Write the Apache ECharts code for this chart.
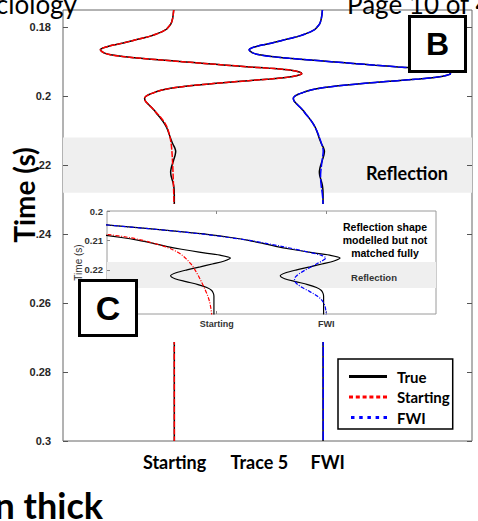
<!DOCTYPE html>
<html><head><meta charset="utf-8">
<script src="https://cdn.jsdelivr.net/npm/echarts@6/dist/echarts.min.js"></script>
<style>html,body{margin:0;padding:0;background:#fff}#c{width:478px;height:521px}</style>
</head><body><div id="c"></div>
<script>
// ---- data (amplitudes in inset units; the main panel shows them at 1/insetGain) ----
const directTime = [0.1750,0.1755,0.1760,0.1765,0.1770,0.1775,0.1780,0.1785,0.1790,0.1795,
  0.1800,0.1805,0.1810,0.1815,0.1820,0.1825,0.1830,0.1835,0.1840,0.1845,
  0.1850,0.1855,0.1860,0.1865,0.1870,0.1875,0.1880,0.1885,0.1890,0.1895,
  0.1900,0.1905,0.1910,0.1915,0.1920,0.1925,0.1930,0.1935,0.1940,0.1945,
  0.1950,0.1955,0.1960,0.1965,0.1970,0.1975,0.1980,0.1985,0.1990,0.1995,
  0.2000,0.2005,0.2010,0.2015,0.2020,0.2025,0.2030,0.2035,0.2040,0.2045];
// direct arrival, identical in True, Starting and FWI
const directAmp = [-0.09,-0.11,-0.13,-0.15,-0.18,-0.21,-0.26,-0.31,-0.39,-0.52,
  -0.68,-0.84,-1.13,-1.50,-1.99,-2.52,-3.17,-3.97,-4.67,-5.42,
  -6.28,-7.09,-7.68,-7.98,-7.84,-7.52,-6.87,-5.58,-3.65,-1.40,
  0.86,3.22,5.58,8.05,10.74,12.56,13.42,13.69,13.21,12.13,
  10.31,7.95,5.58,3.44,1.61,0.11,-0.97,-1.72,-2.25,-2.74,
  -3.06,-3.22,-3.20,-3.11,-2.95,-2.77,-2.58,-2.39,-2.21,-2.06];
const tailTime = [0.205,0.206,0.207,0.208,0.209,0.210,0.211,0.212,0.213,0.214,
  0.215,0.216,0.217,0.218,0.219,0.220,0.221,0.222,0.223,0.224,
  0.225,0.226,0.227,0.228,0.229,0.230,0.231,0.232,0.233,0.234,
  0.235,0.300];
const trueTail = [-1.93,-1.62,-1.33,-1.07,-0.87,-0.71,-0.58,-0.46,-0.32,-0.16,
  0.03,0.125,0.07,-0.04,-0.15,-0.27,-0.37,-0.42,-0.38,-0.28,
  -0.17,-0.09,-0.045,-0.03,-0.025,-0.025,-0.025,-0.025,-0.025,-0.025,
  -0.025,-0.025];
const startingTail = [-1.88,-1.52,-1.24,-0.99,-0.80,-0.67,-0.57,-0.48,-0.41,-0.355,
  -0.315,-0.285,-0.258,-0.235,-0.215,-0.198,-0.182,-0.167,-0.153,-0.14,
  -0.127,-0.114,-0.102,-0.09,-0.08,-0.071,-0.064,-0.058,-0.053,-0.049,
  -0.046,-0.02];
const fwiTail = [-1.93,-1.62,-1.34,-1.09,-0.89,-0.70,-0.55,-0.41,-0.28,-0.16,
  -0.05,-0.005,-0.04,-0.09,-0.14,-0.19,-0.235,-0.27,-0.29,-0.285,
  -0.26,-0.22,-0.17,-0.12,-0.08,-0.048,-0.028,-0.015,-0.008,-0.004,
  -0.002,0];
const insetGain = 16;
const traceOffset = {Starting: 1, FWI: 2};
const mainXLabels = ['Starting', 'Trace 5', 'FWI'];
const mainXLabelPos = [1, 1.57, 2.03];
const mainYTicks = [0.18, 0.2, 0.22, 0.24, 0.26, 0.28, 0.3];
const mainYTickLabels = ['0.18', '0.2', '.22', '.24', '0.26', '0.28', '0.3'];
const insetXTicks = [1, 2];
const insetXLabels = ['Starting', 'FWI'];
const insetYTicks = [0.2, 0.21, 0.22, 0.23];
const insetYLabels = [0.2, 0.21, 0.22];
const mainBand = [0.212, 0.228];
const insetBand = [0.2173, 0.2262];

// ---- build ----
const time = directTime.concat(tailTime);
const trueAmp = directAmp.concat(trueTail);
const startAmp = directAmp.concat(startingTail);
const fwiAmp = directAmp.concat(fwiTail);

function pts(amp, offset, gain, tMin) {
  const out = [];
  for (let i = 0; i < time.length; i++) {
    if (time[i] < tMin) continue;
    out.push([offset + amp[i] * gain, time[i]]);
  }
  return out;
}
function line(name, data, axis, color, width, type, z) {
  return {type: 'line', name, data, xAxisIndex: axis, yAxisIndex: axis, symbol: 'none',
    smooth: 0.3, silent: true, z, itemStyle: {color}, lineStyle: {color, width, type}};
}
function band(axis, range, z) {
  return {type: 'line', data: [], xAxisIndex: axis, yAxisIndex: axis, z, silent: true, symbol: 'none',
    markArea: {silent: true, z, itemStyle: {color: '#efefef'}, data: [[{yAxis: range[0]}, {yAxis: range[1]}]]}};
}
const gMain = 1 / insetGain;
const series = [
  band(0, mainBand, 1),
  line('True', pts(trueAmp, traceOffset.Starting, gMain, 0), 0, '#000', 1.5, 'solid', 2),
  line('True', pts(trueAmp, traceOffset.FWI, gMain, 0), 0, '#000', 1.5, 'solid', 2),
  line('Starting', pts(startAmp, traceOffset.Starting, gMain, 0), 0, '#ff0000', 1.5, [6, 1.5], 2),
  line('FWI', pts(fwiAmp, traceOffset.FWI, gMain, 0), 0, '#0000ff', 1.5, [9, 1.5], 2),
  band(1, insetBand, 5),
  line('True', pts(trueAmp, traceOffset.Starting, 1, 0.199), 1, '#000', 1.2, 'solid', 7),
  line('True', pts(trueAmp, traceOffset.FWI, 1, 0.199), 1, '#000', 1.2, 'solid', 7),
  line('Starting', pts(startAmp, traceOffset.Starting, 1, 0.199), 1, '#ff0000', 1.2, [4, 1.5, 1, 1.5], 7),
  line('FWI', pts(fwiAmp, traceOffset.FWI, 1, 0.199), 1, '#0000ff', 1.2, [4, 1.5, 1, 1.5], 7)
];

// legend icons (38 x 15 box): solid bar, dotted bars
const solidIcon = 'path://M0,0h0.01v0.01h-0.01z M0,6h38v3h-38z M37.99,14.99h0.01v0.01h-0.01z';
const redDots = 'path://M0,0h0.01v0.01h-0.01z M0,6h4v3h-4z M6.8,6h4v3h-4z M13.6,6h4v3h-4z M20.4,6h4v3h-4z M27.2,6h4v3h-4z M34,6h4v3h-4z M37.99,14.99h0.01v0.01h-0.01z';
const blueDots = 'path://M0,0h0.01v0.01h-0.01z M2,6h3.5v3h-3.5z M10.2,6h3.5v3h-3.5z M18.4,6h3.5v3h-3.5z M26.6,6h3.5v3h-3.5z M34.5,6h3.5v3h-3.5z M37.99,14.99h0.01v0.01h-0.01z';

const tickFont = {fontFamily: 'Liberation Sans', fontWeight: 'bold'};
const chart = echarts.init(document.getElementById('c'), null, {renderer: 'svg'});
chart.setOption({
  animation: false,
  grid: [
    {left: 63, top: 10, width: 409, height: 431, show: true, borderColor: '#666', borderWidth: 1, z: 0},
    {left: 107, top: 211, width: 329, height: 103, show: true, backgroundColor: '#fff', borderColor: '#9a9a9a', borderWidth: 1, z: 4}
  ],
  xAxis: [
    {gridIndex: 0, type: 'value', min: 0.25, max: 3, z: 8,
      axisLine: {show: false}, axisTick: {show: false}, splitLine: {show: false},
      axisLabel: {customValues: mainXLabelPos, margin: 12, color: '#000', fontFamily: 'Lato', fontWeight: 'bold', fontSize: 18,
        formatter: v => mainXLabels[mainXLabelPos.findIndex(p => Math.abs(p - v) < 1e-6)] || ''}},
    {gridIndex: 1, type: 'value', min: 0, max: 3, z: 6,
      axisLine: {show: false}, splitLine: {show: false},
      axisTick: {customValues: insetXTicks, inside: true, length: 3, lineStyle: {color: '#888'}},
      axisLabel: {customValues: insetXTicks, margin: 5, color: '#333', fontSize: 9, ...tickFont,
        formatter: v => insetXLabels[insetXTicks.indexOf(v)] || ''}},
    {gridIndex: 1, type: 'value', min: 0, max: 3, z: 6, position: 'top',
      axisLine: {show: false}, splitLine: {show: false}, axisLabel: {show: false},
      axisTick: {customValues: insetXTicks, inside: true, length: 3, lineStyle: {color: '#888'}}}
  ],
  yAxis: [
    {gridIndex: 0, type: 'value', inverse: true, min: 0.175, max: 0.3, z: 8,
      axisLine: {show: false}, splitLine: {show: false},
      axisTick: {customValues: mainYTicks, inside: true, length: 5, lineStyle: {color: '#555'}},
      axisLabel: {customValues: mainYTicks, margin: 12, color: '#262626', fontSize: 11, ...tickFont,
        formatter: v => mainYTickLabels[mainYTicks.findIndex(p => Math.abs(p - v) < 1e-9)] || ''}},
    {gridIndex: 1, type: 'value', inverse: true, min: 0.2, max: 0.235, z: 6,
      axisLine: {show: false}, splitLine: {show: false},
      axisTick: {customValues: insetYTicks, inside: true, length: 3, lineStyle: {color: '#888'}},
      axisLabel: {customValues: insetYLabels, margin: 4, color: '#333', fontSize: 9.5, ...tickFont, formatter: v => String(parseFloat(v.toFixed(3)))},
      name: 'Time (s)', nameLocation: 'middle', nameGap: 24, nameRotate: 90, nameMoveOverlap: false,
      nameTextStyle: {fontFamily: 'Liberation Sans', fontSize: 10, color: '#333'}},
    {gridIndex: 0, type: 'value', inverse: true, min: 0.175, max: 0.3, position: 'right', z: 8,
      axisLine: {show: false}, splitLine: {show: false}, axisLabel: {show: false},
      axisTick: {customValues: mainYTicks, inside: true, length: 5, lineStyle: {color: '#555'}}}
  ],
  legend: {
    orient: 'vertical', left: 338, top: 359, z: 9, selectedMode: false,
    backgroundColor: '#fff', borderColor: '#000', borderWidth: 1.5, borderRadius: 0,
    padding: [10, 3, 4, 11], itemGap: 5.5, itemWidth: 38, itemHeight: 15,
    textStyle: {fontFamily: 'Lato', fontWeight: 'bold', fontSize: 15, lineHeight: 15, color: '#000', padding: [0, 0, 0, 5]},
    data: [
      {name: 'True', icon: solidIcon, itemStyle: {color: '#000'}},
      {name: 'Starting', icon: redDots, itemStyle: {color: '#ff0000'}},
      {name: 'FWI', icon: blueDots, itemStyle: {color: '#0000ff'}}
    ]
  },
  graphic: [
    {type: 'rect', z: 3, silent: true, shape: {x: 64, y: 204, width: 407, height: 138}, style: {fill: '#fff'}},
    {type: 'text', z: 0, x: 77, y: 4, style: {text: 'ciology', font: '26px Lato', fill: '#000', align: 'right', verticalAlign: 'middle'}},
    {type: 'text', z: 0, x: 347, y: 4, style: {text: 'Page 10 of 4', font: '26px Lato', fill: '#000', align: 'left', verticalAlign: 'middle'}},
    {type: 'text', z: 0, x: 103, y: 505, style: {text: 'n thick', font: 'bold 36px Lato', fill: '#000', align: 'right', verticalAlign: 'middle'}},
    {type: 'text', z: 10, x: 24, y: 195, rotation: Math.PI / 2, style: {text: 'Time (s)', font: 'bold 28px Lato', fill: '#000', align: 'center', verticalAlign: 'middle'}},
    {type: 'text', z: 10, x: 407, y: 173, style: {text: 'Reflection', font: 'bold 18px Lato', fill: '#000', align: 'center', verticalAlign: 'middle'}},
    {type: 'text', z: 10, x: 385, y: 240, style: {text: 'Reflection shape\nmodelled but not\nmatched fully', font: 'bold 10.5px "Liberation Sans"', lineHeight: 13.3, fill: '#000', align: 'center', verticalAlign: 'middle'}},
    {type: 'text', z: 10, x: 374, y: 277, style: {text: 'Reflection', font: 'bold 9.5px "Liberation Sans"', fill: '#333', align: 'center', verticalAlign: 'middle'}},
    {type: 'rect', z: 10, shape: {x: 409.5, y: 16.5, width: 56, height: 55}, style: {fill: '#fff', stroke: '#000', lineWidth: 3}},
    {type: 'text', z: 11, x: 437.5, y: 44, style: {text: 'B', font: 'bold 32px "Liberation Sans"', fill: '#000', align: 'center', verticalAlign: 'middle'}},
    {type: 'rect', z: 10, shape: {x: 79.5, y: 280.5, width: 57, height: 55}, style: {fill: '#fff', stroke: '#000', lineWidth: 3}},
    {type: 'text', z: 11, x: 108, y: 308, style: {text: 'C', font: 'bold 34px "Liberation Sans"', fill: '#000', align: 'center', verticalAlign: 'middle'}}
  ],
  series
});
</script></body></html>
